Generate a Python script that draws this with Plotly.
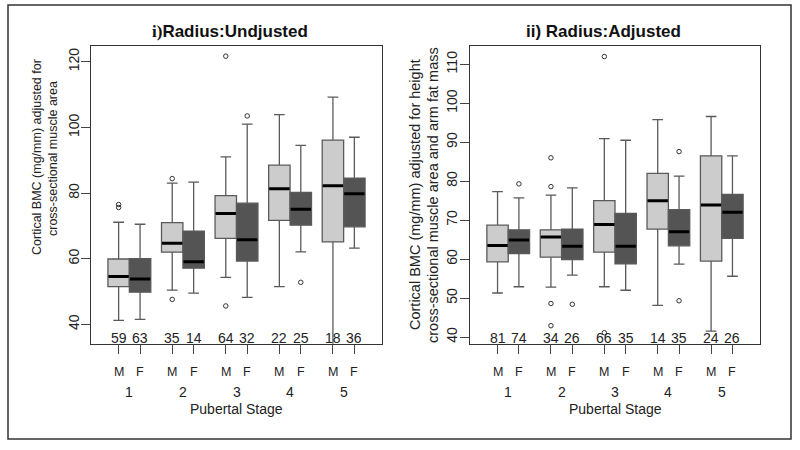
import plotly.graph_objects as go

# ---------------- data ----------------
stages = ["1", "2", "3", "4", "5"]
sexes = ["M", "F"]

# order: M1, F1, M2, F2, ..., M5, F5
left_q1 = [51.5, 49.8, 62.0, 57.1, 66.2, 59.3, 71.7, 70.2, 65.1, 69.7]
left_med = [54.6, 53.8, 64.7, 59.1, 73.8, 65.8, 81.3, 75.1, 82.2, 79.8]
left_q3 = [59.9, 60.0, 71.0, 68.4, 79.2, 76.9, 88.5, 80.2, 96.1, 84.5]
left_lo = [41.2, 41.5, 50.4, 49.5, 54.3, 48.2, 51.5, 62.1, 30.0, 63.2]
left_hi = [71.1, 70.5, 83.0, 83.3, 91.0, 101.0, 103.9, 94.5, 109.2, 97.0]
left_out = [[75.6, 76.5], [], [84.4, 47.6], [], [121.7, 45.6], [103.5], [], [52.8], [], []]
left_n = [59, 63, 35, 14, 64, 32, 22, 25, 18, 36]

right_q1 = [59.3, 61.4, 60.5, 59.9, 61.8, 58.8, 67.7, 63.4, 59.5, 65.3]
right_med = [63.5, 64.9, 65.7, 63.3, 68.9, 63.3, 75.0, 67.0, 73.9, 72.0]
right_q3 = [68.7, 67.5, 67.5, 67.7, 75.0, 71.7, 82.0, 72.7, 86.5, 76.6]
right_lo = [51.3, 52.9, 52.8, 55.9, 52.9, 52.0, 48.1, 58.7, 41.5, 55.6]
right_hi = [77.3, 75.7, 76.4, 78.3, 90.9, 90.5, 95.8, 81.3, 96.6, 86.5]
right_out = [[], [79.3], [86.0, 78.6, 48.6, 42.9], [48.4], [112.0, 41.1], [], [], [87.6, 49.3], [], []]
right_n = [81, 74, 34, 26, 66, 35, 14, 35, 24, 26]

left_yticks = [40, 60, 80, 100, 120]
right_yticks = [40, 50, 60, 70, 80, 90, 100, 110]

# ---------------- style ----------------
FONT = "Liberation Sans, Arial, sans-serif"
M_FILL = "#cccccc"
F_FILL = "#545454"
EDGE = "#5a5a5a"
OFF = 0.2
BW = 0.4

positions = []
for g in range(len(stages)):
    positions += [g + 1 - OFF, g + 1 + OFF]
labels = sexes * len(stages)

fig = go.Figure()


def add_panel(q1, med, q3, lo, hi, outs, xa, ya):
    for i, p in enumerate(positions):
        fig.add_trace(go.Box(
            x=[p], q1=[q1[i]], median=[med[i]], q3=[q3[i]],
            lowerfence=[lo[i]], upperfence=[hi[i]],
            width=BW, whiskerwidth=0.5, boxpoints=False,
            fillcolor=M_FILL if i % 2 == 0 else F_FILL,
            line=dict(color=EDGE, width=1.3),
            xaxis=xa, yaxis=ya, showlegend=False, hoverinfo="skip"))
        fig.add_trace(go.Scatter(
            x=[p - BW / 2 + 0.01, p + BW / 2 - 0.01], y=[med[i], med[i]],
            mode="lines", line=dict(color="black", width=3),
            xaxis=xa, yaxis=ya, showlegend=False, hoverinfo="skip"))
        if outs[i]:
            fig.add_trace(go.Scatter(
                x=[p] * len(outs[i]), y=outs[i], mode="markers",
                marker=dict(symbol="circle-open", size=4.5,
                            color="#333333", line=dict(width=1)),
                xaxis=xa, yaxis=ya, showlegend=False, hoverinfo="skip"))


add_panel(left_q1, left_med, left_q3, left_lo, left_hi, left_out, "x", "y")
add_panel(right_q1, right_med, right_q3, right_lo, right_hi, right_out, "x2", "y2")


def px_x(v):
    return v / 800.0


def px_y(v):
    return 1 - v / 450.0


xr = [0.284, 5.716]
ydom = [px_y(343.7), px_y(46)]
common_x = dict(range=xr, tickvals=positions, ticks="outside", ticklen=9,
                tickcolor="#444444", showticklabels=False, showline=True,
                mirror=True, linecolor="#333333", linewidth=1,
                showgrid=False, zeroline=False, fixedrange=True)
common_y = dict(ticks="outside", ticklen=9, tickcolor="#444444",
                tickangle=-90, tickfont=dict(family=FONT, size=14, color="#222222"),
                showline=True, mirror=True, linecolor="#333333", linewidth=1,
                showgrid=False, zeroline=False, fixedrange=True)

fig.update_layout(
    width=800, height=450,
    margin=dict(l=0, r=0, t=0, b=0),
    paper_bgcolor="white", plot_bgcolor="white",
    font=dict(family=FONT, color="#222222"),
    boxmode="overlay",
    xaxis=dict(domain=[px_x(91), px_x(382)], anchor="y", **common_x),
    yaxis=dict(domain=ydom, anchor="x", range=[34.1, 124.8],
               tickvals=left_yticks, ticklabelstandoff=-4, **common_y),
    xaxis2=dict(domain=[px_x(470), px_x(760)], anchor="y2", **common_x),
    yaxis2=dict(domain=ydom, anchor="x2", range=[38.28, 114.7],
                tickvals=right_yticks, ticklabelstandoff=-3, **common_y),
)

ann = []


def note(x, y, text, size, xref="paper", angle=0, color="#222222"):
    ann.append(dict(x=x, y=y, xref=xref, yref="paper", text=text,
                    showarrow=False, xanchor="center", yanchor="middle",
                    textangle=angle,
                    font=dict(size=size, family=FONT, color=color)))


for xa, counts, cx in (("x", left_n, 236.5), ("x2", right_n, 615)):
    for i, p in enumerate(positions):
        note(p, px_y(338), str(counts[i]), 14, xref=xa)
        note(p, px_y(372), labels[i], 12.5, xref=xa)
    for g, s in enumerate(stages):
        note(g + 1, px_y(392), s, 14, xref=xa)
    note(px_x(cx), px_y(409), "Pubertal Stage", 14)

# titles
note(px_x(230), px_y(31),
     "<span style=\"font-family:Liberation Serif\"><b>i)</b></span><b>Radius:Undjusted</b>",
     17, color="#111111")
note(px_x(603), px_y(31), "<b>ii) Radius:Adjusted</b>", 17, color="#111111")

# y titles
note(px_x(37), px_y(157), "Cortical BMC (mg/mm) adjusted for", 12.5, angle=-90)
note(px_x(53), px_y(159), "cross-sectional muscle area", 12.5, angle=-90)
note(px_x(415), px_y(195), "Cortical BMC (mg/mm) adjusted for height", 14.5, angle=-90)
note(px_x(433), px_y(195), "cross-sectional muscle area and arm fat mass", 14.5, angle=-90)

fig.update_layout(annotations=ann)

# outer frame
fig.add_shape(type="rect", xref="paper", yref="paper",
              x0=px_x(8), x1=px_x(791), y0=px_y(439), y1=px_y(5),
              line=dict(color="#333333", width=1.5), layer="below")

fig.write_html(
    "out.html",
    config={"displayModeBar": False},
    post_script="document.body.style.margin='0';document.body.style.overflow='hidden';",
)
